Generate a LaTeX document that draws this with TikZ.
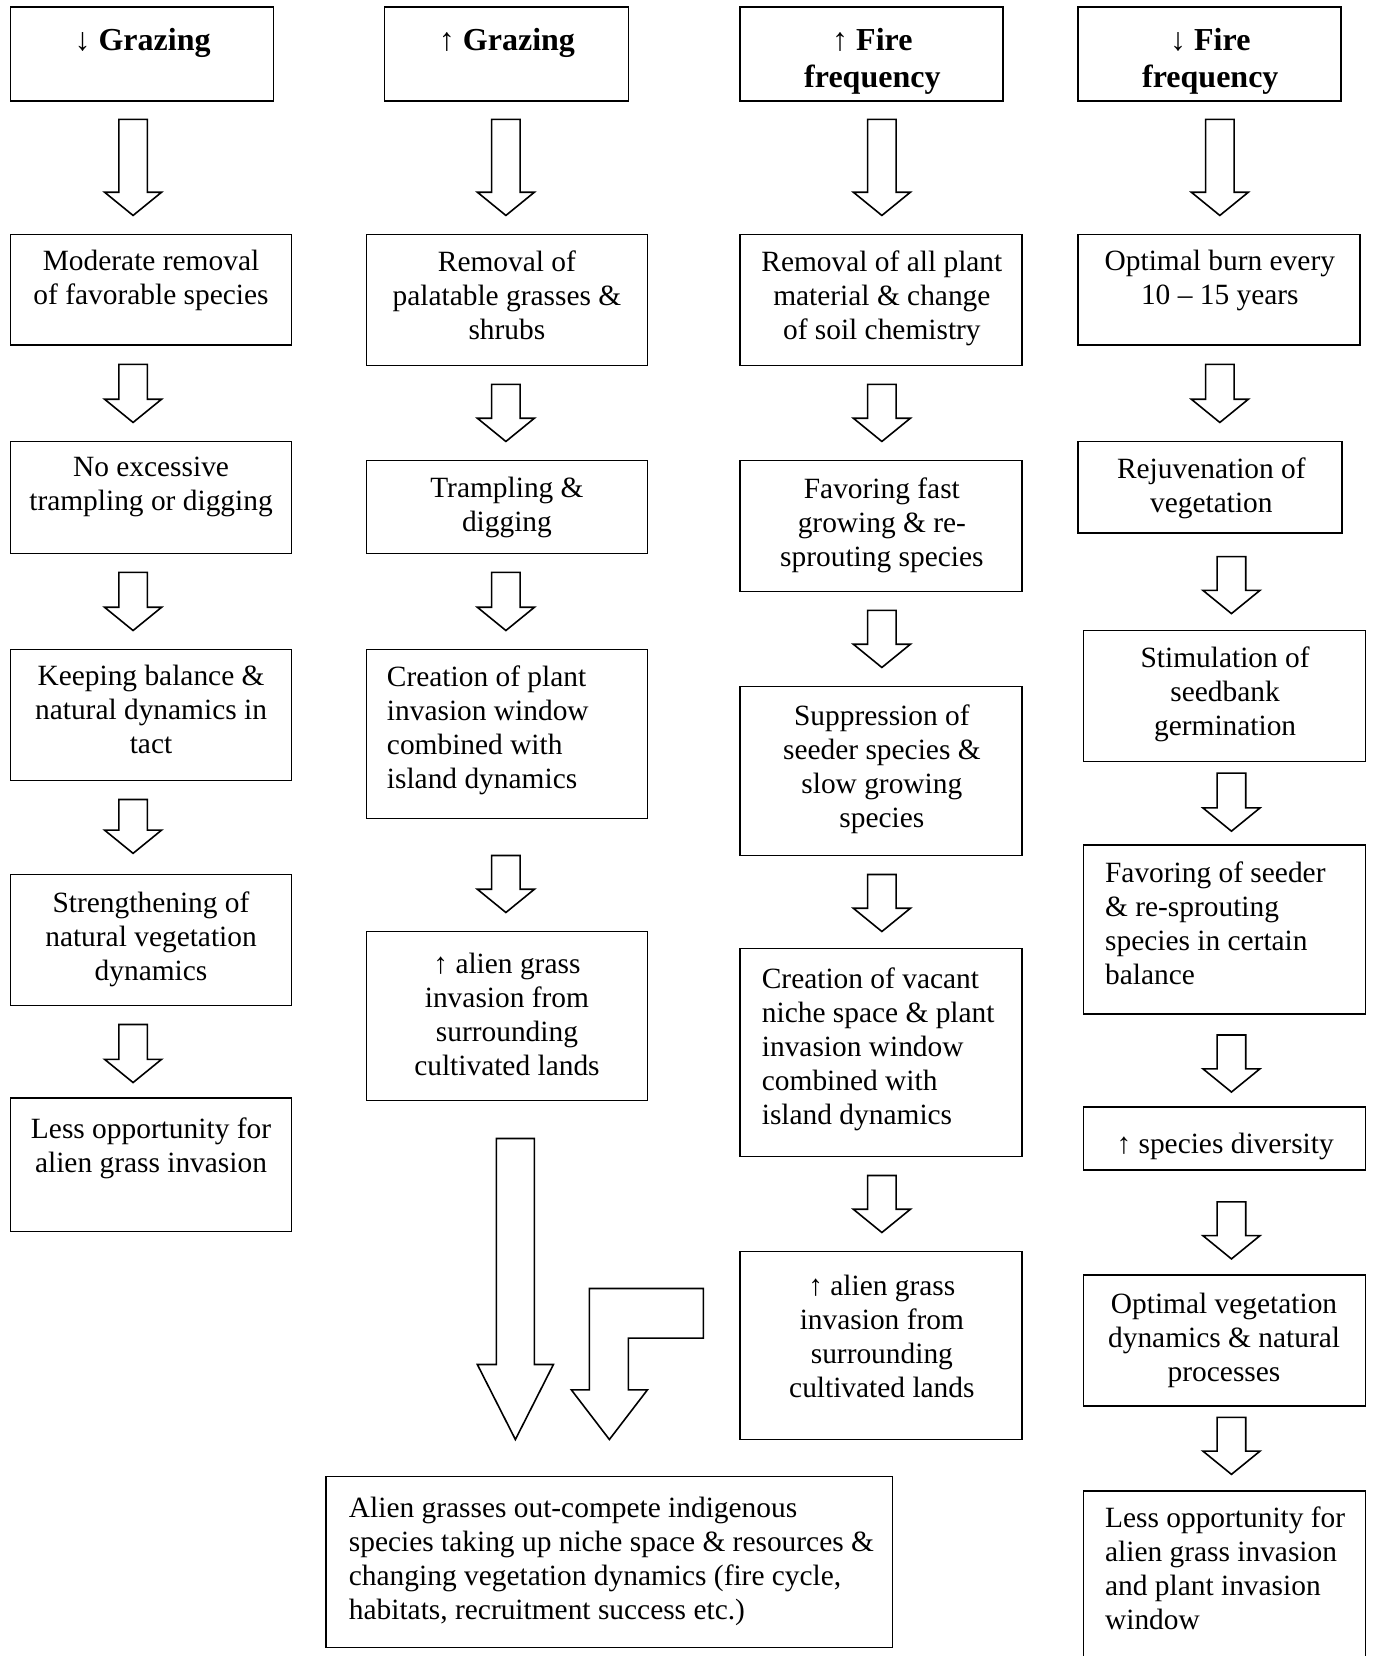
\documentclass[tikz,border=0pt]{standalone}
\usepackage{fontspec}
\setmainfont{Liberation Serif}
\usetikzlibrary{fit}
\newcommand\dnarr[3]{%
  \draw[blk] ({#1-13.5},{#2}) -- ({#1+13.5},{#2}) -- ({#1+13.5},{#3-22}) -- ({#1+27},{#3-22})
    -- ({#1},{#3}) -- ({#1-27},{#3-22}) -- ({#1-13.5},{#3-22}) -- cycle;}
\begin{document}
\begin{tikzpicture}[x=0.528pt,y=-0.528pt,
  box/.style={draw, line width=0.9pt, inner sep=0pt},
  txt/.style={inner sep=0pt, font=\fontsize{14.7}{17}\selectfont, align=center, anchor=north, yshift=-1.6pt, execute at begin node=\strut},
  ltxt/.style={txt, align=left, anchor=north west},
  head/.style={inner sep=0pt, font=\fontsize{16}{18.5}\selectfont\bfseries, align=center, anchor=north, execute at begin node=\strut},
  blk/.style={draw, line width=0.8pt, fill=white, line join=miter}]
\useasboundingbox (0,0) rectangle (1303,1568);
\fill[white] (0,0) rectangle (1303,1568);

% ---------- column 1 : decreased grazing ----------
\node[box, fit={(10,7) (259,96)}] (a1) {};
\node[head] (a1t) at (135,22.5) {↓ Grazing};
\node[box, fit={(10,222) (276,327)}] (a2) {};
\node[txt] (a2t) at (143,233.7) {Moderate removal\\of favorable species};
\node[box, fit={(10,418) (276,524)}] (a3) {};
\node[txt] (a3t) at (143,429.7) {No excessive\\trampling or digging};
\node[box, fit={(10,615) (276,739)}] (a4) {};
\node[txt] (a4t) at (143,626.7) {Keeping balance \&\\natural dynamics in\\tact};
\node[box, fit={(10,828) (276,952)}] (a5) {};
\node[txt] (a5t) at (143,840.7) {Strengthening of\\natural vegetation\\dynamics};
\node[box, fit={(10,1040) (276,1166)}] (a6) {};
\node[txt] (a6t) at (143,1054.7) {Less opportunity for\\alien grass invasion};
\dnarr{126}{113}{204}
\dnarr{126}{345}{400}
\dnarr{126}{542}{597}
\dnarr{126}{757}{808}
\dnarr{126}{970}{1025}

% ---------- column 2 : increased grazing ----------
\node[box, fit={(364,7) (595,96)}] (b1) {};
\node[head] (b1t) at (480,22.5) {↑ Grazing};
\node[box, fit={(347,222) (613,346)}] (b2) {};
\node[txt] (b2t) at (480,233.7) {Removal of\\palatable grasses \&\\shrubs};
\node[box, fit={(347,436) (613,524)}] (b3) {};
\node[txt] (b3t) at (480,448.7) {Trampling \&\\digging};
\node[box, fit={(347,615) (613,775)}] (b4) {};
\node[ltxt] (b4t) at (366,626.7) {Creation of plant\\invasion window\\combined with\\island dynamics};
\node[box, fit={(347,882) (613,1042)}] (b5) {};
\node[txt] (b5t) at (480,898.7) {↑ alien grass\\invasion from\\surrounding\\cultivated lands};
\dnarr{479}{113}{204}
\dnarr{479}{364}{418}
\dnarr{479}{542}{597}
\dnarr{479}{810}{864}

% big arrow and bent arrow to the common outcome
\draw[blk] (470,1078) -- (506,1078) -- (506,1292) -- (524,1292) -- (488,1363)
  -- (452,1292) -- (470,1292) -- cycle;
\draw[blk] (558,1220) -- (666,1220) -- (666,1267) -- (595,1267) -- (595,1316)
  -- (613,1316) -- (577,1363) -- (541,1316) -- (558,1316) -- cycle;

\node[box, fit={(309,1398) (845,1560)}] (c) {};
\node[ltxt] (ct) at (330,1413.7) {Alien grasses out-compete indigenous\\species taking up niche space \& resources \&\\changing vegetation dynamics (fire cycle,\\habitats, recruitment success etc.)};

% ---------- column 3 : increased fire frequency ----------
\node[box, fit={(701,7) (950,96)}] (d1) {};
\node[head] (d1t) at (826,26.5) {↑ Fire\\frequency};
\node[box, fit={(701,222) (968,346)}] (d2) {};
\node[txt] (d2t) at (835,233.7) {Removal of all plant\\material \& change\\of soil chemistry};
\node[box, fit={(701,436) (968,560)}] (d3) {};
\node[txt] (d3t) at (835,448.7) {Favoring fast\\growing \& re-\\sprouting species};
\node[box, fit={(701,650) (968,810)}] (d4) {};
\node[txt] (d4t) at (835,663.7) {Suppression of\\seeder species \&\\slow growing\\species};
\node[box, fit={(701,898) (968,1095)}] (d5) {};
\node[ltxt] (d5t) at (721,912.7) {Creation of vacant\\niche space \& plant\\invasion window\\combined with\\island dynamics};
\node[box, fit={(701,1185) (968,1363)}] (d6) {};
\node[txt] (d6t) at (835,1203.7) {↑ alien grass\\invasion from\\surrounding\\cultivated lands};
\dnarr{835}{113}{204}
\dnarr{835}{364}{418}
\dnarr{835}{578}{632}
\dnarr{835}{828}{882}
\dnarr{835}{1113}{1167}

% ---------- column 4 : decreased fire frequency ----------
\node[box, fit={(1021,7) (1270,96)}] (e1) {};
\node[head] (e1t) at (1146,26.5) {↓ Fire\\frequency};
\node[box, fit={(1021,222) (1288,327)}] (e2) {};
\node[txt] (e2t) at (1155,233.7) {Optimal burn every\\10 – 15 years};
\node[box, fit={(1021,418) (1271,505)}] (e3) {};
\node[txt] (e3t) at (1147,429.7) {Rejuvenation of\\vegetation};
\node[box, fit={(1026,597) (1293,721)}] (e4) {};
\node[txt] (e4t) at (1160,608.7) {Stimulation of\\seedbank\\germination};
\node[box, fit={(1026,800) (1293,960)}] (e5) {};
\node[ltxt] (e5t) at (1046,812.7) {Favoring of seeder\\\& re-sprouting\\species in certain\\balance};
\node[box, fit={(1026,1048) (1293,1108)}] (e6) {};
\node[txt] (e6t) at (1160,1066.7) {↑ species diversity};
\node[box, fit={(1026,1207) (1293,1331)}] (e7) {};
\node[txt] (e7t) at (1159,1220.7) {Optimal vegetation\\dynamics \& natural\\processes};
\node[box, fit={(1026,1412) (1293,1580)}] (e8) {};
\node[ltxt] (e8t) at (1046,1423.7) {Less opportunity for\\alien grass invasion\\and plant invasion\\window};
\dnarr{1155}{113}{204}
\dnarr{1155}{345}{400}
\dnarr{1166}{527}{581}
\dnarr{1166}{732}{787}
\dnarr{1166}{980}{1034}
\dnarr{1166}{1138}{1192}
\dnarr{1166}{1342}{1396}
\end{tikzpicture}
\end{document}
